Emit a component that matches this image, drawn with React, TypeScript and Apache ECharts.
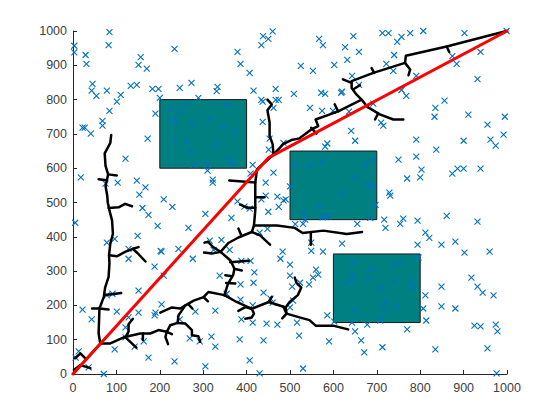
import React, { useEffect, useRef } from "react";
import * as echarts from "echarts";

const obstacles = [
  [200, 600, 400, 800],
  [500, 450, 700, 650],
  [600, 150, 800, 350],
];

const samplesUpperLeft = [
  [84,997],[82,959],[3,957],[3,938],[29,930],[31,904],[156,924],[151,901],[170,890],[234,948],[379,939],[386,904],[407,878],[438,985],[450,977],[460,999],[434,959],
  [45,846],[43,826],[54,811],[78,826],[110,814],[101,794],[84,767],[133,840],[147,843],[183,831],[197,831],[200,805],[246,834],[273,849],[289,805],[333,837],[331,825],[416,826],[467,831],
  [434,799],[437,794],[467,799],[474,799],[462,776],[356,785],[262,788],[248,767],[225,773],[190,759],[68,738],[68,724],[22,718],[27,718],[41,701],[227,741],[236,735],[276,730],[315,744],[347,721],[372,706],[437,735],
  [172,686],[234,683],[262,680],[331,669],[271,651],[453,686],[485,674],[451,654],[121,628],[358,625],[368,613],[278,610],[310,610],[310,593],[414,610],[409,584],[462,587],
  [18,573],[75,555],[103,558],[147,564],[167,544],[153,523],[322,567],[322,558],[444,558],[444,520],[471,517],[490,509],[485,506],[379,503],[209,509],[434,509],
];

const samplesLowerLeft = [
  [5,441],[160,484],[174,464],[229,487],[195,432],[149,403],[266,426],[305,467],[365,455],[407,482],[395,488],[474,487],[450,473],
  [78,383],[96,394],[128,365],[128,336],[202,359],[204,357],[243,365],[276,336],[188,313],[209,287],[315,389],[342,391],[324,362],[361,362],[338,287],
  [151,243],[91,234],[78,229],[22,188],[101,182],[151,179],[204,203],[190,179],[188,171],[128,165],[43,159],[121,136],[121,107],[163,95],[96,72],[142,80],[174,48],[234,37],[305,22],[71,0],
  [13,66],[6,48],[36,19],[246,159],[269,104],[282,182],[328,185],[319,109],[328,80],[292,95],[354,234],[386,217],[386,261],[388,159],[384,101],[407,40],[430,2],
  [409,330],[388,330],[418,296],[416,266],[439,237],[455,220],[460,208],[414,200],[414,150],[446,147],[471,144],[439,98],[483,357],[478,336],[430,412],[448,423],
];

const samplesLowerRight = [
  [512,437],[530,438],[535,450],[532,470],[567,490],[575,457],[581,458],[588,459],[655,438],[685,455],[697,493],[717,450],[720,426],[761,453],[754,438],[794,447],[861,461],[932,444],
  [812,412],[821,397],[794,377],[849,377],[881,386],[902,354],[960,357],[620,380],[549,383],[549,359],[576,357],[500,319],[500,287],[560,304],[565,290],[553,281],[544,261],[505,255],[523,266],
  [646,325],[687,307],[736,316],[752,325],[796,339],[643,287],[643,272],[629,264],[680,281],[740,269],[777,266],[784,252],[710,252],[812,229],[849,255],[918,281],[932,255],[944,237],[969,229],
  [507,214],[500,194],[720,208],[717,185],[745,194],[648,185],[807,191],[849,197],[881,191],[586,171],[516,150],[602,153],[643,150],[678,144],[708,156],[814,156],[770,130],[650,124],[521,112],
  [590,95],[664,98],[671,63],[713,78],[835,72],[955,75],[925,141],[939,139],[974,144],[978,124],[530,16],[976,2],
];

const samplesUpperRight = [
  [567,977],[576,959],[646,985],[627,953],[659,939],[632,916],[602,901],[525,898],[553,884],[713,994],[727,994],[757,983],[747,968],[777,994],[807,1000],[902,994],[999,1000],[740,930],[722,904],[738,884],
  [939,939],[874,927],[884,904],[932,860],[643,869],[659,843],[791,869],[757,828],[768,811],[509,817],[572,820],[581,817],[618,820],[620,823],[856,797],[835,776],[833,750],[911,756],[995,750],[955,727],[992,698],[962,683],[974,666],
  [546,776],[574,767],[599,767],[636,765],[692,788],[710,733],[715,724],[641,709],[650,680],[586,672],[581,663],[791,683],[837,654],[900,680],[791,634],[750,625],[803,596],[770,570],[800,573],[874,584],[886,599],[900,599],[939,599],
  [690,625],[673,610],[574,619],[546,608],[509,608],[648,573],[680,552],[690,544],[500,547],[620,526],[729,529],[731,520],
];

const treeBranches = [
  [[0,0],[63,89]],
  [[2,12],[17,26],[40,17]],
  [[5,46],[17,60],[28,46]],
  [[63,89],[59,118],[61,191],[71,225],[74,252],[82,283],[84,322],[83,346],[86,380],[92,409],[90,448],[84,477],[80,501],[79,519],[75,548],[81,582],[75,607],[73,643],[86,674],[88,697]],
  [[44,191],[61,191],[82,188]],
  [[73,230],[94,233],[111,236]],
  [[84,346],[101,343],[120,356],[138,365],[151,370]],
  [[138,365],[149,352],[167,328]],
  [[82,484],[105,486],[120,496],[136,489]],
  [[81,582],[101,579]],
  [[59,568],[77,565]],
  [[63,89],[86,89],[117,107],[155,118],[178,118],[197,128],[216,123],[228,116]],
  [[121,107],[146,77]],
  [[138,161],[128,145],[128,124],[121,107]],
  [[161,118],[161,99]],
  [[216,123],[213,108],[219,87]],
  [[216,123],[224,142],[241,149],[259,147],[274,128],[274,113],[289,110],[293,94]],
  [[241,149],[243,171],[259,200],[278,214],[301,224],[312,239],[349,230],[377,210],[412,190],[451,210],[485,196],[490,194]],
  [[201,179],[228,194],[247,191],[259,200]],
  [[266,203],[275,191]],
  [[301,224],[311,212]],
  [[349,230],[357,263],[369,288],[372,307],[363,331],[340,356]],
  [[340,356],[320,351],[302,354]],
  [[340,356],[322,371],[311,386],[303,383]],
  [[340,356],[358,382],[381,398],[412,414],[417,433],[420,477],[420,515],[420,558],[424,597],[441,616],[462,640],[477,660],[484,670],[503,682],[522,687],[549,713],[565,723],[559,742],[592,757],[611,766],[665,800],[653,815],[642,834],[642,854],[692,878],[765,907],[767,928],[861,955],[999,1000]],
  [[412,414],[431,404],[454,377]],
  [[381,424],[388,404]],
  [[362,326],[405,330]],
  [[371,307],[389,302]],
  [[366,285],[351,288]],
  [[353,265],[374,264]],
  [[412,190],[397,195],[381,184]],
  [[412,190],[417,176],[412,165],[397,161]],
  [[451,210],[458,225]],
  [[511,281],[515,266],[526,252],[518,230],[499,210],[490,194],[492,176],[522,165],[545,157],[559,141],[599,141],[634,130]],
  [[492,176],[482,162]],
  [[485,196],[492,176]],
  [[417,433],[470,433],[511,426],[529,411],[577,418],[631,408],[666,414]],
  [[548,412],[548,377]],
  [[385,494],[401,485],[420,485]],
  [[420,515],[441,515]],
  [[360,564],[391,561],[420,558]],
  [[448,800],[458,786],[448,769],[453,733],[453,694],[460,670],[462,640]],
  [[622,859],[642,849]],
  [[647,831],[661,842]],
  [[688,892],[694,878]],
  [[765,907],[777,888],[773,871]],
  [[861,955],[867,939]],
  [[603,786],[611,766]],
  [[665,800],[678,779],[707,757],[738,742],[761,742]],
  [[696,742],[703,759]],
  [[549,718],[561,701]],
];

const shortestPath = [[0, 0], [451, 631], [1000, 1000]];

const TEXT = "#404040";
const FONT = "'Liberation Sans', Arial, sans-serif";

export default function App() {
  const ref = useRef<HTMLDivElement>(null);
  useEffect(() => {
    document.body.style.margin = "0";
    const chart = echarts.init(ref.current!, undefined, { renderer: "svg" });
    const axis = (margin: number) => ({
      type: "value",
      min: 0,
      max: 1000,
      interval: 100,
      splitLine: { show: false },
      axisLine: { show: true, onZero: false, lineStyle: { color: "#262626", width: 1 } },
      axisTick: { show: true, inside: true, length: 4, lineStyle: { color: "#262626", width: 1 } },
      axisLabel: {
        color: TEXT,
        fontSize: 12.5,
        fontFamily: FONT,
        margin,
        showMinLabel: true,
        showMaxLabel: true,
        formatter: (v: number) => String(v),
      },
    });
    chart.setOption({
      animation: false,
      backgroundColor: "#ffffff",
      grid: { left: 73, right: 53, top: 31, bottom: 46, containLabel: false },
      xAxis: axis(7),
      yAxis: axis(6),
      series: [
        {
          type: "custom",
          silent: true,
          clip: false,
          z: 1,
          encode: { x: [0, 2], y: [1, 3] },
          data: obstacles,
          renderItem: (_p: unknown, api: any) => {
            const a = api.coord([api.value(0), api.value(1)]);
            const b = api.coord([api.value(2), api.value(3)]);
            return {
              type: "rect",
              shape: { x: a[0], y: b[1], width: b[0] - a[0], height: a[1] - b[1] },
              style: { fill: "#008080", stroke: "#1a1a1a", lineWidth: 1 },
            };
          },
        },
        {
          type: "scatter",
          silent: true,
          clip: false,
          z: 3,
          symbol: "path://M0 0L10 10M0 10L10 0",
          symbolSize: 6,
          itemStyle: { color: "none", borderColor: "#0072BD", borderWidth: 1.1, opacity: 1 },
          data: [...samplesUpperLeft, ...samplesLowerLeft, ...samplesLowerRight, ...samplesUpperRight],
        },
        ...treeBranches.map((b) => ({
          type: "line",
          silent: true,
          clip: false,
          z: 4,
          symbol: "none",
          lineStyle: { color: "#000000", width: 2.5, cap: "round", join: "round" },
          data: b,
        })),
        {
          type: "line",
          silent: true,
          clip: false,
          z: 5,
          symbol: "none",
          lineStyle: { color: "#ff0000", width: 3, cap: "round", join: "round" },
          data: shortestPath,
        },
      ],
    });
    return () => chart.dispose();
  }, []);
  return <div ref={ref} style={{ width: 560, height: 420 }} />;
}
